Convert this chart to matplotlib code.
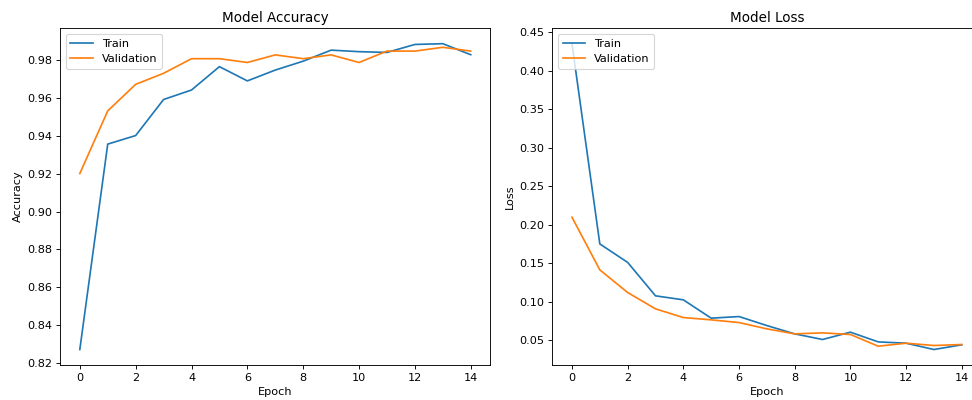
import matplotlib
matplotlib.use("Agg")
import matplotlib.pyplot as plt

epochs = list(range(15))

train_acc = [0.8273, 0.9355, 0.9400, 0.9590, 0.9640, 0.9763, 0.9688, 0.9745, 0.9792,
             0.9850, 0.9842, 0.9838, 0.9880, 0.9884, 0.9826]
val_acc = [0.9200, 0.9530, 0.9670, 0.9728, 0.9805, 0.9805, 0.9785, 0.9825, 0.9805,
           0.9825, 0.9785, 0.9845, 0.9845, 0.9865, 0.9845]

train_loss = [0.435, 0.175, 0.151, 0.1076, 0.1024, 0.0786, 0.0807, 0.069, 0.0582,
              0.0509, 0.0604, 0.0478, 0.0461, 0.0379, 0.044]
val_loss = [0.2097, 0.1413, 0.1119, 0.0907, 0.0794, 0.0764, 0.0729, 0.0647, 0.0582,
            0.0595, 0.0574, 0.0422, 0.0461, 0.0431, 0.0444]

# 12in wide at 81 dpi -> 972 px, fonts/lines scale down like the original
fig = plt.figure(figsize=(12, 400 / 81), dpi=81)
ax1 = fig.add_axes([0.062, 0.088, 0.4424, 0.841])
ax2 = fig.add_axes([0.5684, 0.088, 0.4411, 0.841])

ax1.plot(epochs, train_acc, label="Train")
ax1.plot(epochs, val_acc, label="Validation")
ax1.set_title("Model Accuracy")
ax1.set_xlabel("Epoch")
ax1.set_ylabel("Accuracy")
ax1.legend(loc="upper left")

ax2.plot(epochs, train_loss, label="Train")
ax2.plot(epochs, val_loss, label="Validation")
ax2.set_title("Model Loss")
ax2.set_xlabel("Epoch")
ax2.set_ylabel("Loss")
ax2.legend(loc="upper left")

fig.savefig("out.png", dpi=81)
